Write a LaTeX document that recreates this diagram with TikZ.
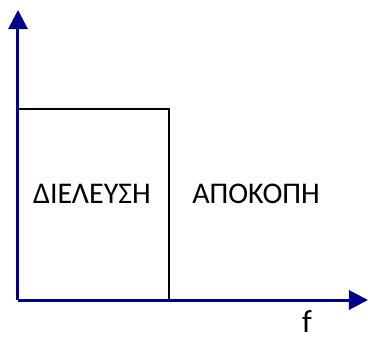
\documentclass[tikz,border=0pt]{standalone}
\usepackage{fontspec}
\setmainfont{Carlito}
\usetikzlibrary{arrows.meta}
\definecolor{axisblue}{RGB}{0,0,139}
\tikzset{
  axis/.style={draw=axisblue, line width=3pt, -{Triangle[length=19pt,width=19pt]}},
  boxline/.style={draw=black, line width=2.5pt},
  lbl/.style={font=\fontsize{30}{34}\selectfont, inner sep=0pt}
}
\begin{document}
\begin{tikzpicture}[x=1pt,y=-1pt]
\useasboundingbox (0,0) rectangle (368,341);
\coordinate (O) at (18,300);
\coordinate (ytop) at (18,10);
\coordinate (xend) at (368,300);
\coordinate (bTL) at (18,109);
\coordinate (bTR) at (169,109);
\coordinate (bBR) at (169,300);
\draw[boxline] (bTL) -- (bTR) -- (bBR);
\draw[axis] (O) -- (ytop);
\draw[axis] (O) -- (xend);
\node[lbl] (pass) at (92,194) {ΔΙΕΛΕΥΣΗ};
\node[lbl] (stop) at (256,194) {ΑΠΟΚΟΠΗ};
\node[lbl, font=\fontsize{32}{36}\selectfont] (f) at (307,322) {f};
\end{tikzpicture}
\end{document}
